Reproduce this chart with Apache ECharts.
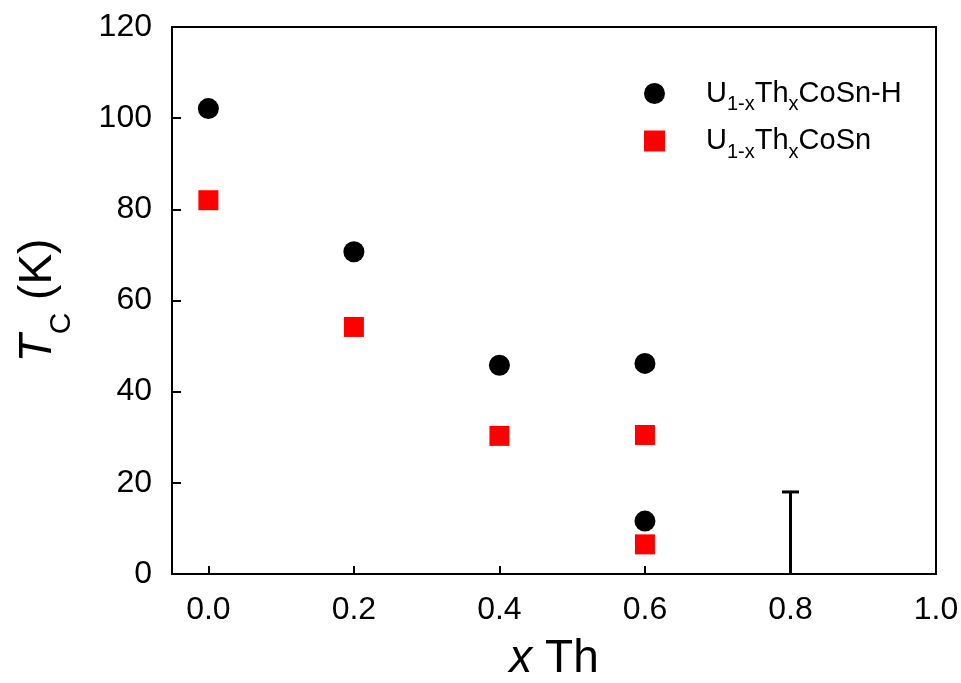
<!DOCTYPE html>
<html>
<head>
<meta charset="utf-8">
<script src="https://cdn.jsdelivr.net/npm/echarts@6/dist/echarts.min.js"></script>
<style>
html,body{margin:0;padding:0;background:#fff;}
#chart{width:961px;height:683px;}
</style>
</head>
<body>
<div id="chart"></div>
<script>
// Data
const xTicks = [0.0, 0.2, 0.4, 0.6, 0.8, 1.0];
const hydrideX = [0.0, 0.2, 0.4, 0.6, 0.6];
const hydrideTc = [102.1, 70.7, 45.8, 46.2, 11.6];
const baseX = [0.0, 0.2, 0.4, 0.6, 0.6];
const baseTc = [82.0, 54.2, 30.3, 30.5, 6.5];
const errX = [0.8];
const errLow = [0];
const errHigh = [18];
const seriesNames = ['U1-xThxCoSn-H', 'U1-xThxCoSn'];

const FONT = '"Liberation Sans", Arial, sans-serif';
const chart = echarts.init(document.getElementById('chart'));

const legendFmt = {
  'U1-xThxCoSn-H': '{n|U}{s|1-x}{n|Th}{s|x}{n|CoSn-H}',
  'U1-xThxCoSn': '{n|U}{s|1-x}{n|Th}{s|x}{n|CoSn}'
};

chart.setOption({
  animation: false,
  backgroundColor: '#fff',
  grid: {
    left: 172, right: 25, top: 27, bottom: 109,
    outerBoundsMode: 'none', containLabel: false,
    show: true, borderColor: '#000', borderWidth: 2, backgroundColor: 'transparent'
  },
  legend: {
    data: [
      { name: seriesNames[0], icon: 'circle' },
      { name: seriesNames[1], icon: 'rect' }
    ],
    orient: 'vertical',
    left: 639, top: 74,
    itemWidth: 21, itemHeight: 21, itemGap: 12,
    formatter: n => legendFmt[n],
    textStyle: {
      fontFamily: FONT, color: '#000',
      padding: [0, 0, 0, 36],
      rich: {
        n: { fontSize: 29, fontFamily: FONT, color: '#000', lineHeight: 34, verticalAlign: 'middle' },
        s: { fontSize: 20, fontFamily: FONT, color: '#000', lineHeight: 20, verticalAlign: 'bottom', padding: [0, 0, -4, 0] }
      }
    }
  },
  xAxis: {
    type: 'value', min: -0.05, max: 1.0,
    name: '{i|x}{n| Th}',
    nameLocation: 'middle', nameGap: 62,
    nameTextStyle: {
      rich: {
        i: { fontSize: 46, fontStyle: 'italic', fontFamily: FONT, color: '#000' },
        n: { fontSize: 46, fontFamily: FONT, color: '#000' }
      }
    },
    axisLine: { show: true, onZero: false, lineStyle: { color: '#000', width: 2 } },
    axisTick: { show: true, inside: true, length: 8, customValues: xTicks, lineStyle: { color: '#000', width: 2 } },
    axisLabel: {
      customValues: xTicks, fontSize: 32, fontFamily: FONT, color: '#000', margin: 20,
      formatter: v => v.toFixed(1)
    },
    splitLine: { show: false }
  },
  yAxis: {
    type: 'value', min: 0, max: 120, interval: 20,
    name: '{i|T}{s|C}{n| (K)}',
    nameLocation: 'middle', nameGap: 109, nameRotate: 90,
    nameTextStyle: {
      rich: {
        i: { fontSize: 46, fontStyle: 'italic', fontFamily: FONT, color: '#000', lineHeight: 50, verticalAlign: 'middle' },
        s: { fontSize: 30, fontFamily: FONT, color: '#000', lineHeight: 30, verticalAlign: 'bottom', padding: [0, 0, -14, 0] },
        n: { fontSize: 46, fontFamily: FONT, color: '#000', lineHeight: 50, verticalAlign: 'middle' }
      }
    },
    axisLine: { show: true, onZero: false, lineStyle: { color: '#000', width: 2 } },
    axisTick: { show: true, inside: true, length: 9, lineStyle: { color: '#000', width: 2 } },
    axisLabel: { fontSize: 32, fontFamily: FONT, color: '#000', margin: 20 },
    splitLine: { show: false }
  },
  series: [
    {
      name: seriesNames[0], type: 'scatter', symbol: 'circle', symbolSize: 21,
      itemStyle: { color: '#000', opacity: 1 },
      data: hydrideX.map((x, i) => [x, hydrideTc[i]]),
      z: 3
    },
    {
      name: seriesNames[1], type: 'scatter', symbol: 'rect', symbolSize: 20,
      itemStyle: { color: '#ff0000', opacity: 1 },
      data: baseX.map((x, i) => [x, baseTc[i]]),
      z: 3
    },
    {
      name: 'error', type: 'custom',
      data: errX.map((x, i) => [x, errLow[i], errHigh[i]]),
      renderItem: function (params, api) {
        const x = api.value(0), lo = api.value(1), hi = api.value(2);
        const p0 = api.coord([x, lo]);
        const p1 = api.coord([x, hi]);
        const st = { stroke: '#000', lineWidth: 3 };
        return {
          type: 'group',
          children: [
            { type: 'line', shape: { x1: p0[0], y1: p0[1], x2: p1[0], y2: p1[1] }, style: st },
            { type: 'line', shape: { x1: p1[0] - 8.5, y1: p1[1], x2: p1[0] + 8.5, y2: p1[1] }, style: st }
          ]
        };
      },
      z: 4
    }
  ]
});
</script>
</body>
</html>
